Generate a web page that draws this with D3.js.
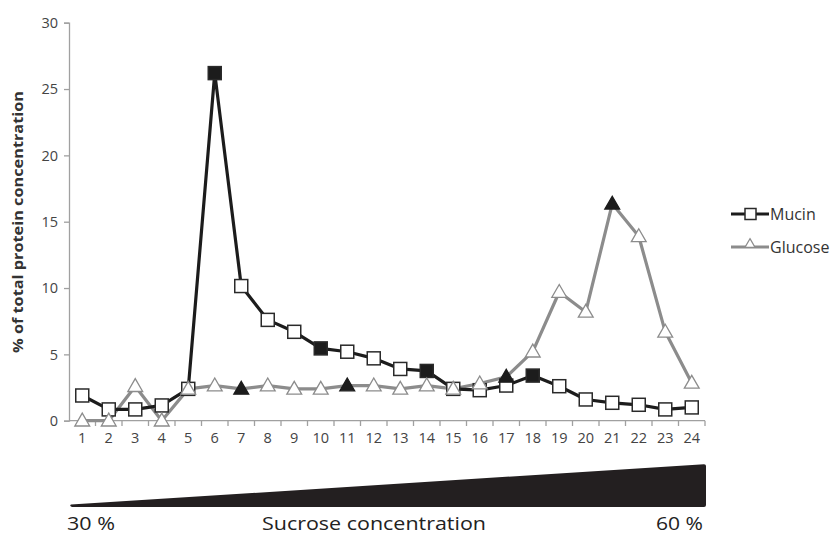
<!DOCTYPE html>
<html><head><meta charset="utf-8">
<script src="https://cdn.jsdelivr.net/npm/d3@7"></script>
<style>body{margin:0;background:#fff}svg{display:block}</style>
</head><body>
<svg id="c" width="836" height="537"></svg>
<script>
const fractions = d3.range(1,25).map(String);
const mucin = [1.9,0.85,0.85,1.15,2.4,26.2,10.15,7.6,6.7,5.45,5.2,4.7,3.9,3.75,2.4,2.3,2.65,3.4,2.6,1.6,1.35,1.2,0.85,1.0];
const mucinFilled = [6,10,14,18];
const glucose = [0,0,2.6,0,2.4,2.65,2.4,2.65,2.4,2.4,2.65,2.65,2.4,2.65,2.4,2.8,3.3,5.2,9.7,8.2,16.35,13.9,6.7,2.85];
const glucoseFilled = [7,11,17,21];
const yTicks = [0,5,10,15,20,25,30];
const seriesNames = ["Mucin","Glucose"];
const gradientLabels = ["30 %","Sucrose concentration","60 %"];

const svg = d3.select("#c");
const x = d3.scaleBand().domain(fractions).range([69,705]);
const y = d3.scaleLinear().domain([0,30]).range([420.7,22.7]);
const font = "'Open Sans', sans-serif";
const axisCol = "#a0a0a0", textCol = "#444";

// y axis
const ya = svg.append("g").attr("transform","translate(69,0)")
  .call(d3.axisLeft(y).tickValues(yTicks).tickSize(5).tickPadding(6));
ya.attr("font-size",null).attr("font-family",null);
ya.select(".domain").attr("stroke",axisCol).attr("stroke-width",1.3);
ya.selectAll(".tick line").attr("stroke",axisCol).attr("stroke-width",1.3);
ya.selectAll("text").attr("fill",textCol).style("font-size","14.5px").style("font-family",font);

// x axis
const xa = svg.append("g").attr("transform","translate(0,420.7)")
  .call(d3.axisBottom(x).tickSize(0).tickPadding(12));
xa.attr("font-size",null).attr("font-family",null);
xa.select(".domain").attr("stroke",axisCol).attr("stroke-width",1.3).attr("d","M69,0H705");
xa.selectAll("text").attr("fill",textCol).style("font-size","14.5px").style("font-family",font);
const bounds = fractions.map(f=>x(f)).concat([x.range()[1]]);
svg.append("g").selectAll("line").data(bounds.slice(1)).join("line")
  .attr("x1",d=>d).attr("x2",d=>d).attr("y1",420.7).attr("y2",426)
  .attr("stroke",axisCol).attr("stroke-width",1.3);

// y title
svg.append("text").attr("transform","translate(23,222) rotate(-90)")
  .attr("text-anchor","middle").style("font-family",font).attr("font-weight","bold")
  .style("font-size","14.5px").attr("fill","#333")
  .attr("textLength",262).attr("lengthAdjust","spacingAndGlyphs")
  .text("% of total protein concentration");

const cx = i => x(fractions[i]) + x.bandwidth()/2;
const line = d3.line().x((d,i)=>cx(i)).y(d=>y(d));

// glucose line
svg.append("path").datum(glucose).attr("d",line).attr("fill","none")
  .attr("stroke","#8c8c8c").attr("stroke-width",3.2).attr("stroke-linejoin","round");
// mucin line
svg.append("path").datum(mucin).attr("d",line).attr("fill","none")
  .attr("stroke","#1c1c1c").attr("stroke-width",3.2).attr("stroke-linejoin","round");

const tri = d3.symbol().type(d3.symbolTriangle).size(95);
// mucin markers
svg.append("g").selectAll("rect").data(mucin).join("rect")
  .attr("x",(d,i)=>cx(i)-6.5).attr("y",d=>y(d)-6.5).attr("width",13).attr("height",13)
  .attr("fill",(d,i)=>mucinFilled.includes(i+1)?"#1c1c1c":"#fff")
  .attr("stroke","#2a2a2a").attr("stroke-width",1.5);
// glucose markers
svg.append("g").selectAll("path").data(glucose).join("path")
  .attr("d",tri).attr("transform",(d,i)=>`translate(${cx(i)},${y(d)+1})`)
  .attr("fill",(d,i)=>glucoseFilled.includes(i+1)?"#1c1c1c":"#fff")
  .attr("stroke",(d,i)=>glucoseFilled.includes(i+1)?"#1c1c1c":"#8c8c8c").attr("stroke-width",1.3);

// legend
const lg = svg.append("g");
lg.append("line").attr("x1",731).attr("x2",769).attr("y1",214).attr("y2",214).attr("stroke","#1c1c1c").attr("stroke-width",3.2);
lg.append("rect").attr("x",745).attr("y",208.5).attr("width",11).attr("height",11).attr("fill","#fff").attr("stroke","#2a2a2a").attr("stroke-width",1.5);
lg.append("line").attr("x1",731).attr("x2",769).attr("y1",247).attr("y2",247).attr("stroke","#8c8c8c").attr("stroke-width",3.2);
lg.append("path").attr("d",d3.symbol().type(d3.symbolTriangle).size(45)).attr("transform","translate(750,244.5)").attr("fill","#fff").attr("stroke","#8c8c8c").attr("stroke-width",1.2);
lg.selectAll("text").data(seriesNames).join("text")
  .attr("x",770).attr("y",(d,i)=>219.5+i*33).style("font-family",font).style("font-size","16px")
  .attr("fill","#333").text(d=>d);

// sucrose gradient wedge
svg.append("path").attr("d","M71,504.5 L704,464.3 Q706,464.3 706,466 L706,505 Q706,507 704,507 L72,507 Q69,506 71,504.5 Z")
  .attr("fill","#231f20");
svg.selectAll(".gl").data(gradientLabels).join("text").attr("class","gl")
  .attr("x",(d,i)=>[67,374,703][i]).attr("y",530)
  .attr("text-anchor",(d,i)=>["start","middle","end"][i])
  .attr("textLength",(d,i)=>[48,224,47][i]).attr("lengthAdjust","spacingAndGlyphs")
  .style("font-family",font).style("font-size","18px").attr("fill","#222").text(d=>d);
</script>
</body></html>
